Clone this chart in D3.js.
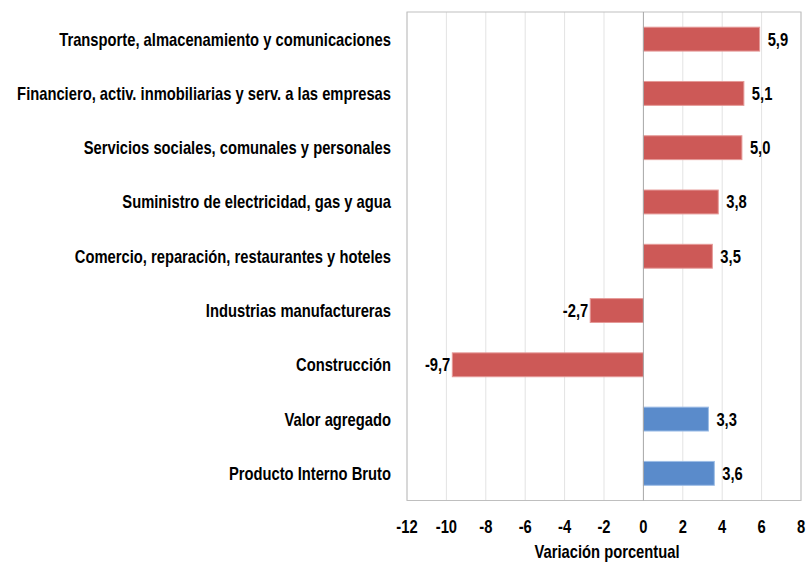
<!DOCTYPE html>
<html><head><meta charset="utf-8">
<script src="https://cdn.jsdelivr.net/npm/d3@7/dist/d3.min.js"></script>
<style>body{margin:0;background:#fff}svg{display:block}text{font-family:"Liberation Sans",Arial,sans-serif;font-weight:bold;fill:#000;font-size:18px}</style>
</head><body><svg id="c" width="807" height="563"></svg>
<script>
const categories = ["Transporte, almacenamiento y comunicaciones","Financiero, activ. inmobiliarias y serv. a las empresas","Servicios sociales, comunales y personales","Suministro de electricidad, gas y agua","Comercio, reparación, restaurantes y hoteles","Industrias manufactureras","Construcción","Valor agregado","Producto Interno Bruto"];
const values = [5.9,5.1,5.0,3.8,3.5,-2.7,-9.7,3.3,3.6];
const groups = ["sector","sector","sector","sector","sector","sector","sector","total","total"];
const xTicks = [-12,-10,-8,-6,-4,-2,0,2,4,6,8];
const xTitle = "Variación porcentual";

const SX = 0.82; // narrow font emulation
const svg = d3.select("#c");
const L=407,R=801,T=12,B=500.5;
const x = d3.scaleLinear().domain([-12,8]).range([L,R]);
const y = d3.scaleBand().domain(categories).range([T,B]).paddingInner(0.56).paddingOuter(0.28);
const color = {sector:"#CD5957", total:"#5A8BCB"};
const stroke = {sector:"#E59A98", total:"#9DBDE6"};
const fmt = v => d3.format(".1f")(v).replace(".",",").replace("−","-");

function narrow(sel, px, py){
  sel.attr("transform",(d,i)=>`translate(${px(d,i)},${py(d,i)}) scale(${SX},1)`);
}

svg.append("g").selectAll("line").data(xTicks.filter(d=>d!==0)).join("line")
  .attr("x1",d=>x(d)).attr("x2",d=>x(d)).attr("y1",T).attr("y2",B)
  .attr("stroke","#e3e3e3").attr("stroke-width",1);
svg.append("rect").attr("x",L).attr("y",T).attr("width",R-L).attr("height",B-T)
  .attr("fill","none").attr("stroke","#bfbfbf").attr("stroke-width",1);
svg.append("g").selectAll("rect").data(categories).join("rect")
  .attr("x",(d,i)=>x(Math.min(0,values[i])))
  .attr("width",(d,i)=>Math.abs(x(values[i])-x(0)))
  .attr("y",d=>y(d)).attr("height",y.bandwidth())
  .attr("fill",(d,i)=>color[groups[i]])
  .attr("stroke",(d,i)=>stroke[groups[i]]).attr("stroke-width",1);
svg.append("line").attr("x1",x(0)).attr("x2",x(0)).attr("y1",T).attr("y2",B)
  .attr("stroke","#a6a6a6").attr("stroke-width",1);

svg.append("g").selectAll("text").data(categories).join("text")
  .call(narrow,(d,i)=>values[i]>=0 ? x(values[i])+8 : x(values[i])-2, d=>y(d)+y.bandwidth()/2)
  .attr("dy","0.36em")
  .attr("text-anchor",(d,i)=>values[i]>=0?"start":"end")
  .text((d,i)=>fmt(values[i]));

svg.append("g").selectAll("text").data(categories).join("text")
  .call(narrow,()=>391, d=>y(d)+y.bandwidth()/2)
  .attr("dy","0.36em").attr("text-anchor","end").text(d=>d);

svg.append("g").selectAll("text").data(xTicks).join("text")
  .call(narrow,d=>x(d), ()=>B+32.5)
  .attr("text-anchor","middle").text(d=>fmt(d).replace(",0",""));

svg.append("text").call(narrow,()=>607,()=>558)
  .attr("text-anchor","middle").text(xTitle);
</script></body></html>
